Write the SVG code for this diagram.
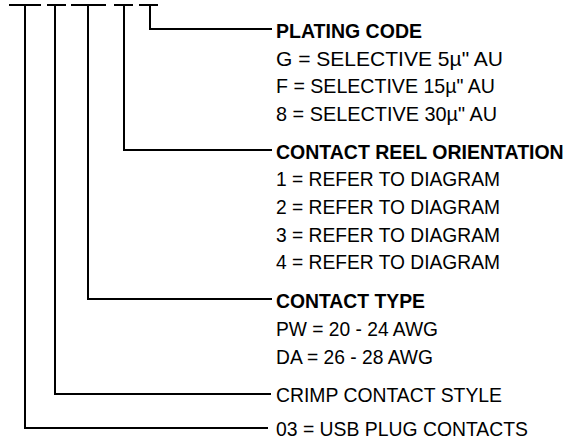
<svg xmlns="http://www.w3.org/2000/svg" width="571" height="439" viewBox="0 0 571 439">
<style>
.ln{fill:none;stroke:#000;stroke-width:2;stroke-linecap:square;stroke-linejoin:miter}
.t{font-family:"Liberation Sans",Arial,sans-serif;font-size:21px;fill:#000}
.b{font-weight:bold}
</style>
<rect width="571" height="439" fill="#fff"/>
<g id="connectors">
<path class="ln" d="M10 5H40M48 5H65M72 5H105M115 5H132M140 5H157"/>
<path class="ln" d="M150 5V29H271"/>
<path class="ln" d="M124 5V150H271"/>
<path class="ln" d="M88 5V299H271"/>
<path class="ln" d="M55 5V394H270"/>
<path class="ln" d="M25 5V428H267"/>
</g>
<g id="plating-code">
<text class="t b" x="276" y="37.5" textLength="146" lengthAdjust="spacingAndGlyphs">PLATING CODE</text>
<text class="t" x="276" y="65.5" textLength="227" lengthAdjust="spacingAndGlyphs">G = SELECTIVE 5µ" AU</text>
<text class="t" x="276" y="93" textLength="219" lengthAdjust="spacingAndGlyphs">F = SELECTIVE 15µ" AU</text>
<text class="t" x="276" y="120.5" textLength="221" lengthAdjust="spacingAndGlyphs">8 = SELECTIVE 30µ" AU</text>
</g>
<g id="contact-reel-orientation">
<text class="t b" x="0" y="0" transform="translate(276 158.5) scale(1 1.07)" style="font-size:19.5px">CONTACT REEL ORIENTATION</text>
<text class="t" x="276" y="185.5" textLength="224" lengthAdjust="spacingAndGlyphs">1 = REFER TO DIAGRAM</text>
<text class="t" x="276" y="213.5" textLength="224" lengthAdjust="spacingAndGlyphs">2 = REFER TO DIAGRAM</text>
<text class="t" x="276" y="241.5" textLength="224" lengthAdjust="spacingAndGlyphs">3 = REFER TO DIAGRAM</text>
<text class="t" x="276" y="268.5" textLength="224" lengthAdjust="spacingAndGlyphs">4 = REFER TO DIAGRAM</text>
</g>
<g id="contact-type">
<text class="t b" x="276" y="307.5" textLength="149" lengthAdjust="spacingAndGlyphs">CONTACT TYPE</text>
<text class="t" x="276" y="335.5" textLength="162" lengthAdjust="spacingAndGlyphs">PW = 20 - 24 AWG</text>
<text class="t" x="276" y="363.5" textLength="157" lengthAdjust="spacingAndGlyphs">DA = 26 - 28 AWG</text>
</g>
<g id="crimp-contact-style">
<text class="t" x="276" y="402" textLength="226" lengthAdjust="spacingAndGlyphs">CRIMP CONTACT STYLE</text>
</g>
<g id="usb-plug-contacts">
<text class="t" x="276" y="435.5" textLength="252" lengthAdjust="spacingAndGlyphs">03 = USB PLUG CONTACTS</text>
</g>
</svg>
